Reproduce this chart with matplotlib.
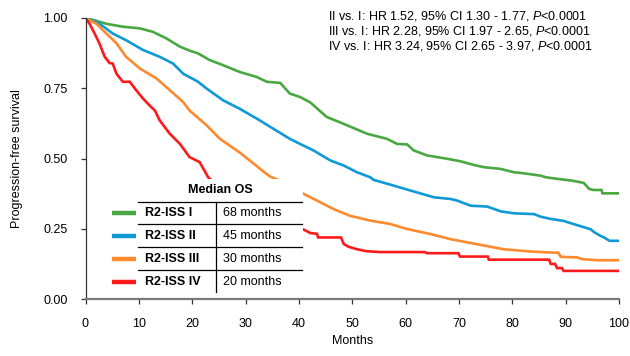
import matplotlib
matplotlib.use("Agg")
import matplotlib.pyplot as plt
from matplotlib.lines import Line2D
from matplotlib.patches import Rectangle

plt.rcParams['font.family'] = ['Liberation Sans', 'DejaVu Sans']
plt.rcParams['mathtext.fontset'] = 'custom'
plt.rcParams['mathtext.it'] = 'Liberation Sans:italic'
plt.rcParams['mathtext.rm'] = 'Liberation Sans'

# traced survival curves: months and progression-free fraction
t_i = [0, 2, 4, 7, 10.2, 12.6, 15.2, 17.7, 19.5, 21.1, 23.3, 25.8, 28.9, 32.1, 34, 36.5,
       38.3, 40.2, 42.1, 45.2, 48.3, 52.8, 56.5, 58.4, 60.3, 61.5, 64, 67.8, 70.3, 72.8,
       74.7, 77.8, 80.3, 81.9, 85.3, 86.3, 88.7, 91.3, 93.4, 94.4, 95.2, 96.7, 96.9, 100]
s_i = [1.0, 0.99, 0.979, 0.969, 0.963, 0.951, 0.927, 0.898, 0.884, 0.874, 0.85, 0.832,
       0.808, 0.79, 0.773, 0.769, 0.731, 0.719, 0.70, 0.648, 0.624, 0.588, 0.570, 0.552,
       0.55, 0.529, 0.511, 0.499, 0.49, 0.477, 0.469, 0.463, 0.451, 0.448, 0.439, 0.433,
       0.427, 0.421, 0.413, 0.392, 0.388, 0.388, 0.376, 0.376]

t_ii = [0, 1.5, 2.6, 5.1, 7.6, 10.8, 13.9, 16.4, 18.3, 21.1, 22.7, 25.8, 28.9, 32.1, 35.2,
        38.3, 40.2, 42.7, 45.9, 48.4, 50.9, 53.4, 54, 58.4, 62, 65.3, 68.4, 69.7, 72.2,
        75.3, 77.8, 80.3, 84.1, 85.3, 87.2, 89.6, 90.4, 93.5, 94.7, 95.4, 96.6, 97.2,
        98.2, 100]
s_ii = [1.0, 0.99, 0.98, 0.945, 0.921, 0.886, 0.862, 0.838, 0.802, 0.773, 0.749, 0.707,
        0.677, 0.642, 0.606, 0.570, 0.552, 0.529, 0.493, 0.475, 0.451, 0.433, 0.424, 0.40,
        0.38, 0.362, 0.356, 0.35, 0.332, 0.329, 0.312, 0.305, 0.302, 0.293, 0.285, 0.278,
        0.273, 0.255, 0.248, 0.237, 0.224, 0.219, 0.207, 0.207]

t_iii = [0, 2, 3.9, 5.8, 7.6, 10.2, 13.3, 15.8, 18.3, 19.5, 22.7, 25.2, 29, 33.6, 34.6,
         36, 40, 40.9, 43.4, 46.5, 49.6, 53.4, 57.1, 60.3, 64.7, 68.4, 73.4, 78.4, 83.5,
         87.8, 88.6, 89.1, 92.2, 93, 96, 100]
s_iii = [1.0, 0.98, 0.945, 0.91, 0.862, 0.82, 0.785, 0.743, 0.701, 0.671, 0.618, 0.570,
         0.52, 0.45, 0.436, 0.425, 0.385, 0.374, 0.35, 0.32, 0.296, 0.279, 0.267, 0.249,
         0.231, 0.213, 0.195, 0.177, 0.169, 0.165, 0.165, 0.15, 0.148, 0.142, 0.138, 0.138]

t_iv = [0, 0.75, 1.7, 2.6, 3.6, 4.5, 5.1, 5.8, 7, 8.3, 9.5, 10.8, 12, 13, 13.9, 15.8,
        17.7, 19.5, 21.4, 23, 26, 31, 36, 40, 40.9, 42.1, 43.4, 43.6, 47.9, 48.4, 49.3,
        50.9, 52.7, 55.3, 63.6, 64, 69.9, 70.2, 75.4, 75.6, 86.9, 87.2, 88, 88.4, 89.3,
        89.6, 100]
s_iv = [1.0, 0.98, 0.945, 0.91, 0.862, 0.84, 0.838, 0.802, 0.773, 0.773, 0.743, 0.713,
        0.689, 0.671, 0.636, 0.588, 0.552, 0.505, 0.487, 0.433, 0.38, 0.32, 0.28, 0.255,
        0.247, 0.235, 0.232, 0.219, 0.219, 0.196, 0.186, 0.177, 0.17, 0.167, 0.167, 0.163,
        0.163, 0.151, 0.151, 0.14, 0.14, 0.125, 0.125, 0.11, 0.11, 0.10, 0.10]

groups = ['R2-ISS I', 'R2-ISS II', 'R2-ISS III', 'R2-ISS IV']
median_os = ['68 months', '45 months', '30 months', '20 months']
colors = ['#4aa843', '#0f9ad6', '#fd8a2e', '#fe1a1a']
hr_lines = ['II vs. I: HR 1.52, 95% CI 1.30 - 1.77, $\\mathit{P}$<0.0001',
            'III vs. I: HR 2.28, 95% CI 1.97 - 2.65, $\\mathit{P}$<0.0001',
            'IV vs. I: HR 3.24, 95% CI 2.65 - 3.97, $\\mathit{P}$<0.0001']

W, H = 630, 356
fig = plt.figure(figsize=(W / 100, H / 100), dpi=100)
ax = fig.add_axes([85.5 / W, 1 - 299 / H, (619 - 85.5) / W, (299 - 18) / H])

curves = [(t_i, s_i), (t_ii, s_ii), (t_iii, s_iii), (t_iv, s_iv)]
for (t, s), c in zip(curves, colors):
    ax.plot(t, s, color=c, lw=1.9, solid_joinstyle='miter')

ax.set_xlim(0, 100)
ax.set_ylim(0, 1)
ax.set_xticks(range(0, 101, 10))
ax.set_yticks([0, 0.25, 0.5, 0.75, 1.0])
ax.set_yticklabels(['0.00', '0.25', '0.50', '0.75', '1.00'])
for side in ['top', 'right']:
    ax.spines[side].set_visible(False)
ax.spines['bottom'].set_color('#7a7a7a')
ax.spines['bottom'].set_linewidth(1.6)
ax.spines['left'].set_color('#333333')
ax.spines['left'].set_linewidth(0.9)
ax.tick_params(axis='x', direction='out', length=3.5, width=0.9, color='#333333',
               pad=10.5, labelsize=9)
ax.tick_params(axis='y', direction='out', length=3.8, width=0.9, color='#333333',
               pad=9, labelsize=9)
ax.set_xlabel('Months', fontsize=9, labelpad=3)
ax.set_ylabel('Progression-free survival', fontsize=9)
ax.yaxis.set_label_coords(-0.118, 0.5)

for i, line in enumerate(hr_lines):
    fig.text(328 / W, 1 - (16 + 15 * i) / H, line, fontsize=9, va='center', ha='left')


# median OS table, drawn in figure pixels over the curves
def fx(px):
    return px / W


def fy(py):
    return 1 - py / H


fig.add_artist(Rectangle((fx(107), fy(296.5)), (303 - 107) / W, (296.5 - 178.5) / H,
                         transform=fig.transFigure, facecolor='white',
                         edgecolor='none', zorder=2))
fig.text(fx(220), fy(190), 'Median OS', fontsize=9, fontweight='bold',
         ha='center', va='center', zorder=3)
for py in [201.7, 224.3, 247, 270]:
    fig.add_artist(Line2D([fx(137.7), fx(302)], [fy(py), fy(py)], color='black',
                          lw=0.9, transform=fig.transFigure, zorder=3))
fig.add_artist(Line2D([fx(215.7), fx(215.7)], [fy(201.7), fy(291.7)], color='black',
                      lw=0.9, transform=fig.transFigure, zorder=3))
row_y = [213, 236, 259, 282]
for g, m, c, py in zip(groups, median_os, colors, row_y):
    fig.add_artist(Line2D([fx(112), fx(136)], [fy(py), fy(py)], color=c, lw=3.2,
                          solid_capstyle='butt', transform=fig.transFigure, zorder=3))
    fig.text(fx(145), fy(py), g, fontsize=9, fontweight='bold', ha='left',
             va='center', zorder=3)
    fig.text(fx(223), fy(py), m, fontsize=9, ha='left', va='center', zorder=3)

fig.savefig('out.png', dpi=100)
